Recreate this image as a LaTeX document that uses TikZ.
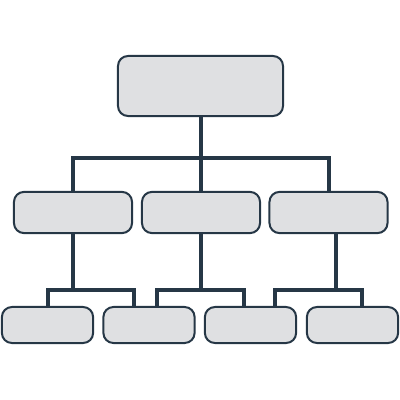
\documentclass[tikz,border=0pt]{standalone}
\usepackage{tikz}

\definecolor{boxfill}{HTML}{DFE0E2}
\definecolor{boxline}{HTML}{263746}

\tikzset{
  orgbox/.style={draw=boxline,fill=boxfill,line width=0.05cm,rounded corners=0.25cm,inner sep=0pt},
  link/.style={draw=boxline,line width=0.1cm}
}

\begin{document}
\begin{tikzpicture}[x=0.025cm,y=-0.025cm]
\useasboundingbox (0,0) rectangle (400,400);

% top
\node[orgbox,minimum width=4.125cm,minimum height=1.5cm] (top) at (200.5,86) {};

% middle row
\foreach \n/\x in {1/73,2/201,3/328.5}
  \node[orgbox,minimum width=2.95cm,minimum height=1.03cm] (m\n) at (\x,212.5) {};

% bottom row
\foreach \n/\x in {1/47.5,2/149,3/250.5,4/352.5}
  \node[orgbox,minimum width=2.28cm,minimum height=0.9cm] (b\n) at (\x,325) {};

% top level links
\draw[link] (top.south) -- (top.south |- 0,158);
\draw[link] (m1.north) |- (m3.north |- 0,158) -- (m3.north);
\draw[link] (m2.north) -- (m2.north |- 0,158);

% lower links
\draw[link] (m1.south) -- (m1.south |- 0,290);
\draw[link] (b1.north) |- ([xshift=-15*0.025cm]b2.north |- 0,290) -- ([xshift=-15*0.025cm]b2.north);
\draw[link] (m2.south) -- (m2.south |- 0,290);
\draw[link] ([xshift=8*0.025cm]b2.north) |- ([xshift=-7*0.025cm]b3.north |- 0,290) -- ([xshift=-7*0.025cm]b3.north);
\draw[link] ([xshift=7*0.025cm]m3.south) -- ([xshift=7*0.025cm]m3.south |- 0,290);
\draw[link] ([xshift=24*0.025cm]b3.north) |- ([xshift=9*0.025cm]b4.north |- 0,290) -- ([xshift=9*0.025cm]b4.north);
\end{tikzpicture}
\end{document}
